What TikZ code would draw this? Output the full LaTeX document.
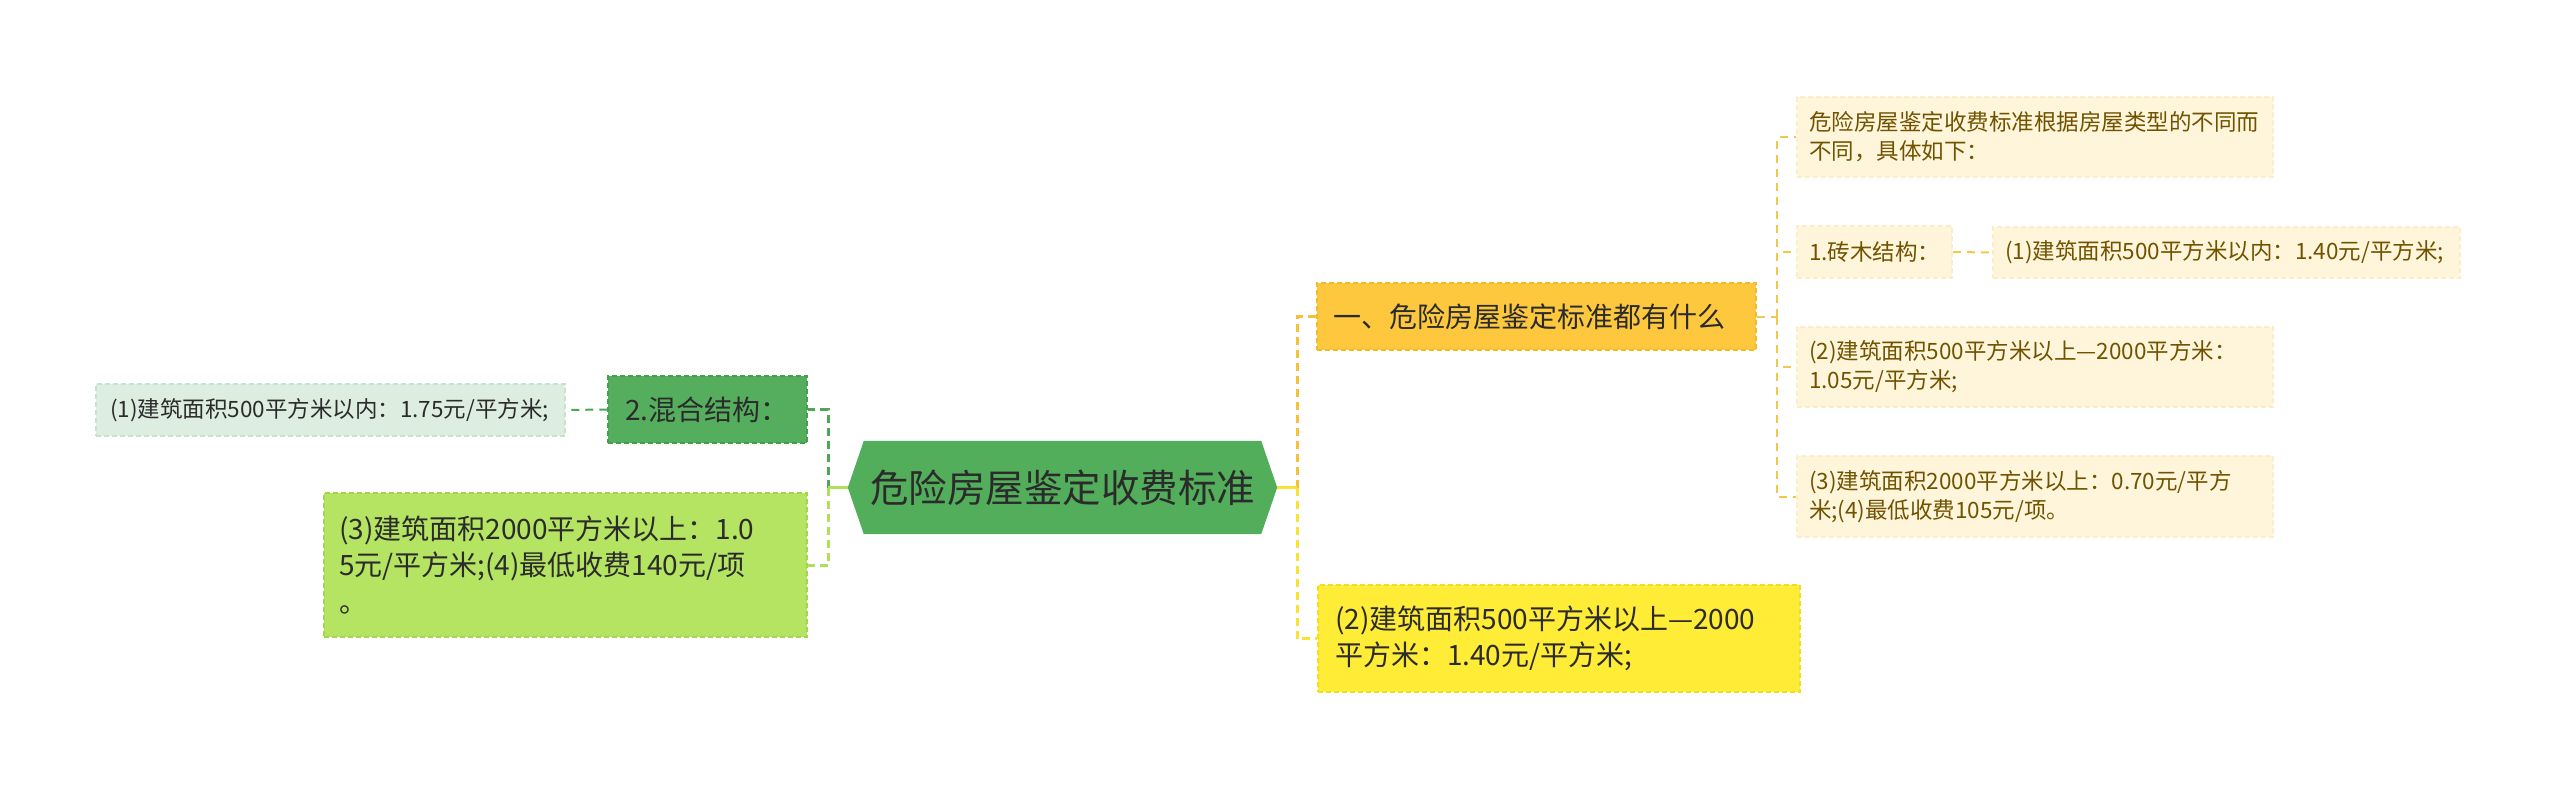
\documentclass[tikz,border=0pt]{standalone}
\usepackage{fontspec}
\setmainfont{Noto Sans CJK SC}
\usetikzlibrary{calc}
\pgfdeclarelayer{bg}
\pgfsetlayers{bg,main}
\definecolor{hexgreen}{HTML}{52AE5B}
\definecolor{ltwo}{HTML}{55AE5E}
\definecolor{ltwodraw}{HTML}{449E4C}
\definecolor{txtdark}{HTML}{2B2B2B}
\definecolor{lonefill}{HTML}{DDEEE0}
\definecolor{lonedraw}{HTML}{C5E2CA}
\definecolor{limefill}{HTML}{B4E462}
\definecolor{limedraw}{HTML}{A3D44E}
\definecolor{goldfill}{HTML}{FEC83E}
\definecolor{golddraw}{HTML}{F3BA2C}
\definecolor{yelfill}{HTML}{FFEC36}
\definecolor{yeldraw}{HTML}{F3DD22}
\definecolor{creamfill}{HTML}{FFF5DA}
\definecolor{creamdraw}{HTML}{FBEDC8}
\definecolor{creamtext}{HTML}{705300}
\definecolor{dgreenline}{HTML}{4DA757}
\definecolor{limeline}{HTML}{B0E05A}
\definecolor{goldline}{HTML}{F6C137}
\definecolor{yellowline}{HTML}{F8E430}
\definecolor{goldlight}{HTML}{F3C74D}
\begin{document}
\begin{tikzpicture}[x=1pt,y=-1pt,
  base/.style={rectangle, inner ysep=0pt, align=left, line width=1.5pt, dash pattern=on 5pt off 3pt},
  medfont/.style={font=\fontsize{28}{36.5}\selectfont, text=txtdark},
  smallfont/.style={font=\fontsize{22.5}{29}\selectfont},
  creambox/.style={base, smallfont, fill=creamfill, draw=creamdraw, text=creamtext, inner xsep=12pt},
  conn/.style={line width=3pt, dash pattern=on 8pt off 5pt},
  subconn/.style={line width=2pt, dash pattern=on 8pt off 6pt},
]
\useasboundingbox (0,0) rectangle (2560,790);

% central node
\node[rectangle, inner sep=0pt, minimum width=429pt, minimum height=93pt,
      font=\fontsize{38.5}{44}\selectfont, text=txtdark] (C) at (1062.5,487.5) {危险房屋鉴定收费标准};
\begin{pgfonlayer}{bg}
\fill[hexgreen] (C.west) -- ($(C.north west)+(16,0)$) -- ($(C.north east)+(-16,0)$)
  -- (C.east) -- ($(C.south east)+(-16,0)$) -- ($(C.south west)+(16,0)$) -- cycle;
\end{pgfonlayer}

% left side
\node[base, medfont, fill=ltwo, draw=ltwodraw, inner xsep=17pt, text width=165pt, minimum height=67pt]
  (L2) at (707.5,409.5) {2.混合结构：};
\node[base, smallfont, text=txtdark, fill=lonefill, draw=lonedraw, inner xsep=14pt, text width=441pt, minimum height=52pt]
  (L1) at (330.5,410) {(1)建筑面积500平方米以内：1.75元/平方米;};
\node[base, medfont, fill=limefill, draw=limedraw, inner xsep=15pt, text width=453pt, minimum height=144pt]
  (L3) at (565.5,565) {(3)建筑面积2000平方米以上：1.0\\5元/平方米;(4)最低收费140元/项\\。};

% right side
\node[base, medfont, fill=goldfill, draw=golddraw, inner xsep=16pt, text width=407pt, minimum height=67pt]
  (R0) at (1536.5,316.5) {一、危险房屋鉴定标准都有什么};
\node[base, medfont, fill=yelfill, draw=yeldraw, inner xsep=17pt, text width=448pt, minimum height=107pt]
  (Ry) at (1559,638.5) {(2)建筑面积500平方米以上—2000\\平方米：1.40元/平方米;};

\node[creambox, text width=452pt, minimum height=80pt] (R1) at (2035,137)
  {危险房屋鉴定收费标准根据房屋类型的不同而\\不同，具体如下：};
\node[creambox, text width=131pt, minimum height=52pt] (R2) at (1874.5,252) {1.砖木结构：};
\node[creambox, text width=443pt, minimum height=51pt] (R3) at (2226.5,252.5)
  {(1)建筑面积500平方米以内：1.40元/平方米;};
\node[creambox, text width=452pt, minimum height=80pt] (R4) at (2035,367)
  {(2)建筑面积500平方米以上—2000平方米：\\1.05元/平方米;};
\node[creambox, text width=452pt, minimum height=81pt] (R5) at (2035,496.5)
  {(3)建筑面积2000平方米以上：0.70元/平方\\米;(4)最低收费105元/项。};

% connectors left
\coordinate (bl) at (828,487.5);
\draw[conn, dgreenline] (bl) |- (L2.east);
\draw[conn, limeline] (bl) |- (L3.east);
\draw[line width=3pt, limeline] (C.west) -- (bl);
\draw[subconn, dgreenline] (L2.west) -- (L1.east);

% connectors right
\coordinate (br) at (1297,487.5);
\draw[conn, goldline] (br) |- (R0.west);
\draw[conn, yellowline] (br) |- (Ry.west);
\draw[line width=3pt, yellowline] (C.east) -- (br);

\coordinate (bs) at (1777,316.5);
\draw[subconn, goldlight] (R0.east) -- (bs);
\draw[subconn, goldlight] (bs) |- (R1.west);
\draw[subconn, goldlight] (bs) |- (R2.west);
\draw[subconn, goldlight] (bs) |- (R4.west);
\draw[subconn, goldlight] (bs) |- (R5.west);
\draw[subconn, goldlight] (R2.east) -- (R3.west);
\end{tikzpicture}
\end{document}
